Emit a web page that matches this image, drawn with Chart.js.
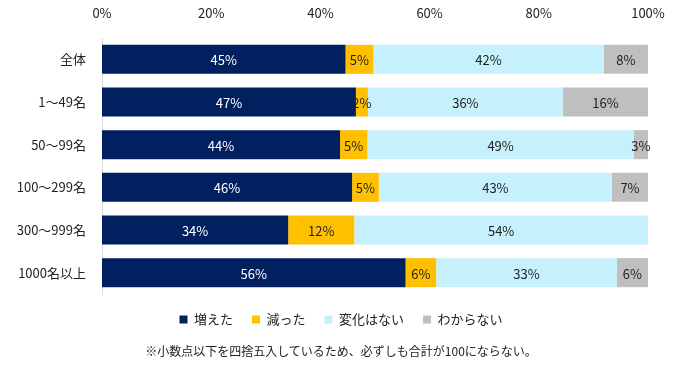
<!DOCTYPE html>
<html>
<head>
<meta charset="utf-8">
<script src="https://cdn.jsdelivr.net/npm/chart.js@4/dist/chart.umd.min.js"></script>
<style>
  body { margin: 0; background: #fff; }
  #wrap { position: relative; width: 682px; height: 369px; }
  #note {
    position: absolute; left: 0; width: 682px; top: 342px;
    text-align: center; font: 12px "Noto Sans CJK JP", sans-serif; color: #222;
  }
</style>
</head>
<body>
<div id="wrap">
  <canvas id="chart" width="682" height="369"></canvas>
  <div id="note">※小数点以下を四捨五入しているため、必ずしも合計が100にならない。</div>
</div>
<script>
const categories = ['全体', '1～49名', '50～99名', '100～299名', '300～999名', '1000名以上'];
const seriesNames = ['増えた', '減った', '変化はない', 'わからない'];
const increased = [44.6, 46.5, 43.6, 45.8, 34.1, 55.6];
const decreased = [5.1, 2.2, 5.0, 4.9, 12.1, 5.6];
const noChange = [42.2, 35.7, 48.8, 42.7, 53.8, 33.1];
const unknown = [8.1, 15.6, 2.6, 6.6, 0, 5.7];
const xTicks = [0, 20, 40, 60, 80, 100];

const colors = ['#002060', '#ffc000', '#c5f0fc', '#bfbfbf'];
const labelColors = ['#ffffff', '#222222', '#222222', '#222222'];
const font = '"Noto Sans CJK JP", "Noto Sans", sans-serif';

// draws rounded % labels in the middle of each segment
const barLabels = {
    id: 'barLabels',
    afterDatasetsDraw(chart) {
        const ctx = chart.ctx;
        ctx.save();
        ctx.font = '13px ' + font;
        ctx.textAlign = 'center';
        ctx.textBaseline = 'middle';
        chart.data.datasets.forEach((ds, i) => {
            chart.getDatasetMeta(i).data.forEach((bar, j) => {
                const v = ds.data[j];
                if (!v) return;
                ctx.fillStyle = labelColors[i];
                ctx.fillText(Math.round(v) + '%', (bar.x + bar.base) / 2, bar.y + 1);
            });
        });
        ctx.restore();
    }
};

new Chart(document.getElementById('chart'), {
    type: 'bar',
    data: {
        labels: categories,
        datasets: [increased, decreased, noChange, unknown].map((d, i) => ({
            label: seriesNames[i],
            data: d,
            backgroundColor: colors[i],
            borderWidth: 0,
            barPercentage: 1,
            categoryPercentage: 0.68
        }))
    },
    options: {
        indexAxis: 'y',
        responsive: false,
        animation: false,
        layout: { padding: { left: 0, right: 0, top: 0, bottom: 33 } },
        plugins: {
            legend: {
                position: 'bottom',
                labels: {
                    color: '#222',
                    font: { family: font, size: 13 },
                    boxWidth: 8,
                    boxHeight: 8,
                    padding: 19
                }
            },
            tooltip: { enabled: false }
        },
        scales: {
            x: {
                position: 'top',
                stacked: true,
                min: 0,
                max: 100,
                afterBuildTicks: axis => { axis.ticks = xTicks.map(v => ({ value: v })); },
                afterFit: axis => { axis.height = 38; axis.paddingRight = 34; },
                grid: { display: false },
                border: { display: false },
                ticks: {
                    color: '#222',
                    font: { family: font, size: 13 },
                    padding: 9,
                    callback: v => v + '%'
                }
            },
            y: {
                stacked: true,
                grid: { display: false },
                border: { color: '#d9d9d9', width: 1 },
                afterFit: axis => { axis.width = 102; },
                ticks: {
                    color: '#222',
                    font: { family: font, size: 13 },
                    padding: 8
                }
            }
        }
    },
    plugins: [barLabels]
});
</script>
</body>
</html>
